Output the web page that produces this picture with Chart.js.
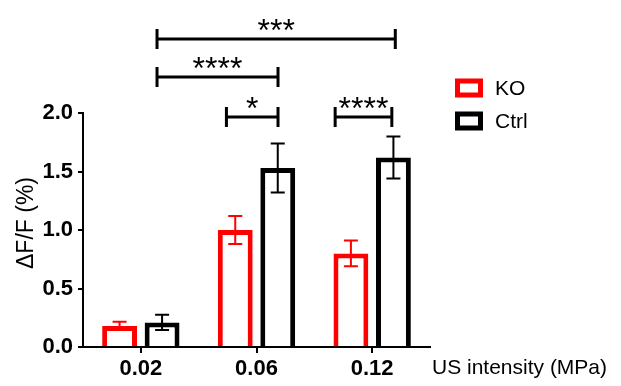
<!DOCTYPE html>
<html>
<head>
<meta charset="utf-8">
<script src="https://cdn.jsdelivr.net/npm/chart.js@4.4.0/dist/chart.umd.min.js"></script>
<style>
  html, body { margin: 0; padding: 0; background: #fff; }
  #wrap { width: 621px; height: 386px; }
</style>
</head>
<body>
<div id="wrap"><canvas id="chart"></canvas></div>
<script>
// US intensity groups (MPa)
const intensities = ['0.02', '0.06', '0.12'];

// mean dF/F (%) and error (SEM) per group
const koMeans = [0.18, 1.00, 0.80];
const koErrors = [0.035, 0.12, 0.11];
const ctrlMeans = [0.21, 1.53, 1.62];
const ctrlErrors = [0.065, 0.21, 0.18];

const yTicks = [0, 0.5, 1.0, 1.5, 2.0];

// significance brackets (from/to in category units, level in y units)
const sigFrom = [0.14, 0.14, 0.74, 1.68];
const sigTo = [2.2, 1.186, 1.186, 2.17];
const sigLevel = [2.632, 2.308, 1.966, 1.966];
const sigLabel = ['***', '****', '*', '****'];

const FONT = "'Liberation Sans', Arial, sans-serif";

// Error bars drawn on top of each bar
const errorBarPlugin = {
  id: 'errorBars',
  afterDatasetsDraw(chart) {
    const ctx = chart.ctx;
    const yScale = chart.scales.y;
    chart.data.datasets.forEach((ds, i) => {
      const meta = chart.getDatasetMeta(i);
      meta.data.forEach((bar, j) => {
        const err = ds.errors[j];
        const yTop = yScale.getPixelForValue(ds.data[j] + err);
        const yBot = yScale.getPixelForValue(ds.data[j] - err);
        ctx.save();
        ctx.strokeStyle = ds.borderColor;
        ctx.lineWidth = 2;
        ctx.beginPath();
        ctx.moveTo(bar.x, yTop);
        ctx.lineTo(bar.x, yBot);
        ctx.moveTo(bar.x - 7, yTop);
        ctx.lineTo(bar.x + 7, yTop);
        ctx.moveTo(bar.x - 7, yBot);
        ctx.lineTo(bar.x + 7, yBot);
        ctx.stroke();
        ctx.restore();
      });
    });
  }
};

// Significance brackets, legend and axis titles
const annotationPlugin = {
  id: 'annotations',
  afterDraw(chart) {
    const ctx = chart.ctx;
    const xScale = chart.scales.x;
    const yScale = chart.scales.y;
    const area = chart.chartArea;

    ctx.save();
    ctx.strokeStyle = '#000';
    ctx.fillStyle = '#000';
    ctx.lineWidth = 3;
    sigLabel.forEach((label, i) => {
      const x1 = xScale.getPixelForValue(sigFrom[i]);
      const x2 = xScale.getPixelForValue(sigTo[i]);
      const y = Math.round(yScale.getPixelForValue(sigLevel[i]));
      ctx.beginPath();
      ctx.moveTo(x1, y);
      ctx.lineTo(x2, y);
      ctx.moveTo(x1, y - 10);
      ctx.lineTo(x1, y + 10);
      ctx.moveTo(x2, y - 10);
      ctx.lineTo(x2, y + 10);
      ctx.stroke();
      ctx.font = '32px ' + FONT;
      ctx.textAlign = 'center';
      ctx.textBaseline = 'alphabetic';
      ctx.fillText(label, (x1 + x2) / 2, y + 2);
    });

    // legend
    ctx.font = '21px ' + FONT;
    ctx.textAlign = 'left';
    ctx.textBaseline = 'middle';
    chart.data.datasets.forEach((ds, i) => {
      const cy = area.top - 25 + i * 33;
      const bx = area.right + 25;
      ctx.strokeStyle = ds.borderColor;
      ctx.lineWidth = 5;
      ctx.strokeRect(bx + 2.5, cy - 9.5 + 2.5, 28 - 5, 19 - 5);
      ctx.fillStyle = '#000';
      ctx.fillText(ds.label, bx + 40, cy + 1);
    });

    // x-axis title at the end of the axis
    ctx.font = '21px ' + FONT;
    ctx.textBaseline = 'middle';
    ctx.fillText('US intensity (MPa)', area.right + 2, area.bottom + 21);

    // y-axis title
    ctx.translate(27, (area.top + area.bottom) / 2 - 7);
    ctx.rotate(-Math.PI / 2);
    ctx.textAlign = 'center';
    ctx.font = '23px ' + FONT;
    ctx.fillText('ΔF/F (%)', 0, 0);
    ctx.restore();
  }
};

const ctx = document.getElementById('chart').getContext('2d');
new Chart(ctx, {
  type: 'bar',
  data: {
    labels: intensities,
    datasets: [
      {
        label: 'KO',
        data: koMeans,
        errors: koErrors,
        backgroundColor: '#fff',
        borderColor: '#ff0000',
        borderWidth: 5,
        categoryPercentage: 0.735,
        barPercentage: 0.82
      },
      {
        label: 'Ctrl',
        data: ctrlMeans,
        errors: ctrlErrors,
        backgroundColor: '#fff',
        borderColor: '#000',
        borderWidth: 5,
        categoryPercentage: 0.735,
        barPercentage: 0.82
      }
    ]
  },
  options: {
    responsive: true,
    maintainAspectRatio: false,
    animation: false,
    layout: { padding: { top: 113, right: 191, bottom: 0, left: 0 } },
    plugins: {
      legend: { display: false },
      tooltip: { enabled: false }
    },
    scales: {
      x: {
        grid: {
          display: true,
          drawOnChartArea: false,
          offset: false,
          tickLength: 6,
          lineWidth: 2,
          color: '#000'
        },
        border: { display: true, color: '#000', width: 2 },
        ticks: {
          color: '#000',
          padding: 3,
          font: { family: FONT, size: 22, weight: 'bold' }
        },
        afterFit(scale) { scale.height = 39; }
      },
      y: {
        min: 0,
        max: 2,
        afterBuildTicks(scale) { scale.ticks = yTicks.map(v => ({ value: v })); },
        grid: {
          display: true,
          drawOnChartArea: false,
          tickLength: 5,
          lineWidth: 2,
          color: '#000'
        },
        border: { display: true, color: '#000', width: 2 },
        ticks: {
          color: '#000',
          padding: 5,
          font: { family: FONT, size: 22, weight: 'bold' },
          callback: v => v.toFixed(1)
        },
        afterFit(scale) { scale.width = 83; }
      }
    }
  },
  plugins: [errorBarPlugin, annotationPlugin]
});
</script>
</body>
</html>
